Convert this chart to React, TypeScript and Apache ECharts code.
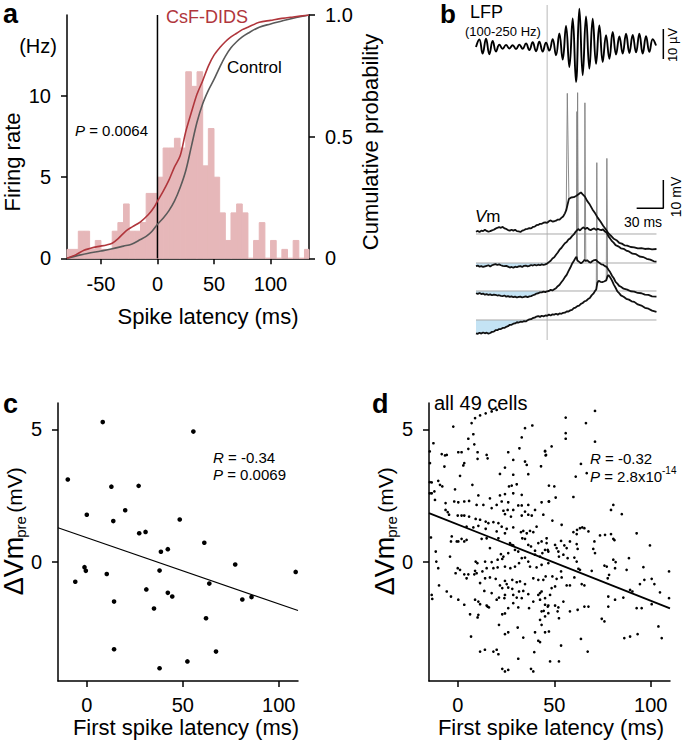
import React, { useEffect, useRef } from "react";
import * as echarts from "echarts";

const FONT = '"Liberation Sans", Arial, Helvetica, sans-serif';

// ---------------- panel a ----------------
const histStartMs = -80;
const histBinMs = 5;
const histRateHz = [
  0.55, 0.55, 1.67, 1.67, 0.55, 1.1, 0.55, 0.55, 1.67, 2.2, 3.35, 1.67, 1.67, 2.2, 4.0, 4.0,
  5.0, 6.8, 6.8, 7.4, 6.8, 11.5, 10.6, 11.5, 5.7, 8.0, 5.0, 2.8, 1.1, 2.8, 3.35, 2.8, 0, 1.1,
  2.2, 0, 1.1, 0, 0.55, 0, 1.1, 0, 0.55,
];
const cdfCsfDids = [
  [-80, 0], [-72, 0.015], [-65, 0.033], [-60, 0.04], [-53, 0.048], [-45, 0.055], [-40, 0.062],
  [-35, 0.08], [-28, 0.112], [-22, 0.13], [-15, 0.15], [-8, 0.18], [-3, 0.21], [0, 0.235],
  [5, 0.275], [10, 0.32], [15, 0.375], [20, 0.42], [25, 0.52], [30, 0.6], [35, 0.675],
  [40, 0.73], [45, 0.79], [50, 0.835], [55, 0.865], [60, 0.89], [65, 0.91], [70, 0.925],
  [75, 0.94], [80, 0.95], [90, 0.97], [100, 0.978], [110, 0.986], [120, 0.992], [134, 1.0],
];
const cdfControl = [
  [-80, 0], [-70, 0.012], [-62, 0.02], [-50, 0.03], [-41, 0.038], [-30, 0.05], [-23, 0.058],
  [-15, 0.077], [-10, 0.09], [-5, 0.11], [0, 0.14], [5, 0.165], [10, 0.195], [15, 0.235],
  [20, 0.29], [25, 0.36], [30, 0.46], [35, 0.56], [40, 0.635], [45, 0.69], [50, 0.735],
  [55, 0.785], [60, 0.83], [65, 0.865], [70, 0.89], [75, 0.91], [80, 0.925], [90, 0.95],
  [100, 0.963], [110, 0.975], [120, 0.987], [134, 1.0],
];
const latencyTicks = [-50, 0, 50, 100];
const rateTicks = [0, 5, 10];
const probTicks = [0, 0.5, 1];

// ---------------- panel b ----------------
const lfpTrace = [
  [0, 0], [3.75, 2.5], [7.5, -2.2], [11.25, 2.8], [15, -2.4], [18.75, 2.0], [22.5, -1.5],
  [26.25, 0.8], [30, -0.6], [33.75, 0.7], [37.5, -0.5], [41.25, 0.6], [45, -0.7], [48.75, 0.8],
  [52.5, -0.6], [56.25, 1.2], [60, -1.0], [63.75, 1.6], [67.5, -1.4], [71.25, 1.8], [75, -1.5],
  [78.75, 1.4], [82.5, -1.2], [86.25, 2.6], [90, -2.8], [93.75, 4.5], [97.5, -4.2], [101.25, 7.0],
  [105, -6.7], [108.75, 9.5], [112.5, -11.7], [116.25, 12.8], [120, -9.4], [123.75, 10.2],
  [127.5, -7.2], [131.25, 9.4], [135, -5.6], [138.75, 7.2], [142.5, -5.0], [146.25, 3.9],
  [150, -3.9], [153.75, 5.0], [157.5, -2.5], [161.25, 3.5], [165, -2.2], [168.75, 4.4],
  [172.5, -2.0], [176.25, 4.0], [180, -1.8], [183.75, 4.4], [187.5, -2.2], [191.25, 3.6],
  [195, -1.6], [198.75, 2.6], [202.5, 0.5],
];
const vmTrace1 = [
  [0, 0.8], [2, 1.1], [4, 0.7], [6, 1.2], [8, 1.0], [10, 1.5], [12, 1.1], [14, 0.8], [16, 1.0],
  [18, 1.3], [20, 1.5], [22, 1.9], [24, 2.2], [26, 2.4], [28, 2.2], [30, 2.5], [32, 2.0],
  [34, 1.8], [36, 1.4], [38, 1.2], [40, 1.5], [42, 1.2], [44, 1.5], [46, 1.0], [48, 0.9],
  [50, 0.7], [52, 1.2], [54, 1.4], [56, 1.7], [58, 1.8], [60, 2.1], [62, 2.0], [64, 2.5],
  [66, 2.6], [68, 3.1], [70, 3.2], [72, 3.6], [74, 3.6], [76, 4.0], [78, 4.1], [80, 3.9],
  [82, 4.5], [84, 4.8], [86, 4.4], [88, 4.5], [90, 4.7], [92, 5.1], [94, 5.1], [96, 5.7],
  [98, 6.2], [100, 7.3], [101.5, 8.4], [104.5, 12.4], [107, 12.9], [110, 13.0], [113, 13.5],
  [116, 14.2], [118, 14.7], [120, 14.0], [122.5, 13.2], [125, 11.7], [128, 10.4], [131, 8.7],
  [134, 7.3], [137, 5.7], [140, 4.4], [143, 2.9], [146, 1.7], [149, 0.2], [152, -0.7],
  [155, -1.7], [158, -2.2], [161, -3.1], [164, -3.4], [167, -4.0], [170, -4.1], [174, -4.6],
  [178, -4.7], [182, -5.1], [186, -5.0], [190, -5.3], [194, -5.2], [198, -5.4], [203, -5.3],
];
const vmTrace2 = [
  [0, -1.1], [2, -0.9], [4, -1.3], [6, -1.1], [8, -1.4], [10, -1.2], [12, -1.0], [14, -0.8],
  [16, -1.2], [18, -0.8], [20, -0.6], [22, -0.4], [24, -0.7], [26, -0.5], [28, -0.8], [30, -1.0],
  [32, -1.1], [34, -1.0], [36, -1.3], [38, -1.6], [40, -1.4], [42, -1.7], [44, -1.3], [46, -1.5],
  [48, -1.2], [50, -1.1], [52, -1.4], [54, -1.0], [56, -0.9], [58, -1.2], [60, -1.0], [62, -0.7],
  [64, -0.9], [66, -0.6], [68, -0.9], [70, -0.6], [72, -0.8], [74, -0.5], [76, -0.7], [78, -0.5],
  [80, -0.2], [82, 0.3], [84, 0.8], [86, 1.6], [88, 2.0], [90, 2.9], [92, 3.7], [94, 4.7],
  [96, 5.3], [98, 6.2], [100, 7.0], [102, 7.4], [104, 8.3], [106, 8.7], [108, 9.5], [110, 10.1],
  [112, 11.0], [113.5, 11.5], [115, 12.0], [117, 11.5], [119, 12.2], [121, 12.6], [123, 12.0],
  [125, 12.5], [127, 11.9], [129, 11.6], [131, 12.0], [133, 12.2], [135, 11.7], [137, 12.1],
  [139, 11.8], [141, 11.6], [143, 11.9], [145, 11.1], [147, 10.7], [149, 9.4], [151, 8.6],
  [153, 7.7], [155, 7.1], [157, 6.3], [160, 5.9], [163, 5.2], [166, 5.0], [169, 4.4], [172, 4.1],
  [176, 3.3], [180, 3.1], [184, 2.3], [188, 2.1], [192, 1.5], [196, 1.2], [200, 0.6], [203, 0.5],
];
const vmTrace3 = [
  [0, -0.8], [2, -1.0], [4, -0.7], [6, -1.1], [8, -0.9], [10, -1.3], [12, -1.1], [14, -1.4],
  [16, -1.2], [18, -1.5], [20, -1.3], [22, -1.4], [24, -1.6], [26, -1.5], [28, -1.7], [30, -1.8],
  [32, -1.6], [34, -2.0], [36, -1.8], [38, -2.1], [40, -1.9], [42, -2.2], [44, -2.0], [46, -2.3],
  [48, -2.1], [50, -2.0], [52, -2.3], [54, -2.1], [56, -1.9], [58, -2.2], [60, -1.9], [62, -1.8],
  [64, -1.5], [66, -1.3], [68, -0.9], [70, -0.8], [72, -0.5], [74, -0.5], [76, -0.2], [78, -0.4],
  [80, -0.1], [82, 0.0], [84, 0.4], [86, 0.2], [88, 0.6], [90, 1.0], [92, 1.7], [94, 2.2],
  [96, 3.1], [98, 3.9], [100, 4.9], [102, 5.7], [104, 7.0], [106, 8.2], [108, 9.6], [110, 10.6],
  [112, 11.7], [113, 12.1], [114, 10.8], [116, 10.3], [118, 9.8], [119.5, 10.1], [121, 10.6],
  [122, 11.0], [123.5, 10.6], [125, 10.9], [127, 10.3], [129, 10.0], [131, 10.6], [133, 10.9],
  [135, 11.0], [137, 10.3], [139, 9.9], [141, 9.4], [143, 9.3], [145, 8.8], [147, 8.5],
  [149, 7.5], [151, 6.6], [153, 5.4], [155, 4.5], [157, 3.2], [159, 2.6], [161, 1.8], [163, 1.5],
  [166, 0.8], [170, 0.5], [174, -0.1], [178, -0.2], [182, -0.7], [186, -0.8], [190, -1.3],
  [194, -1.4], [198, -1.9], [203, -2.0],
];
const vmTrace4 = [
  [0, -4.7], [2, -4.9], [4, -4.5], [6, -4.8], [8, -4.4], [10, -4.7], [12, -4.5], [14, -4.8],
  [16, -4.6], [18, -4.2], [20, -4.1], [22, -3.6], [24, -3.6], [26, -3.2], [28, -3.2], [30, -2.8],
  [32, -2.8], [34, -2.4], [36, -2.2], [38, -1.7], [40, -1.7], [42, -1.3], [44, -1.2], [46, -0.8],
  [48, -0.9], [50, -0.6], [52, -0.7], [54, -0.4], [56, -0.5], [58, -0.1], [60, 0.2], [62, 0.3],
  [64, 0.7], [66, 0.8], [68, 1.2], [70, 1.4], [72, 1.1], [74, 1.5], [76, 1.3], [78, 1.6],
  [80, 1.5], [82, 1.9], [84, 1.6], [86, 2.0], [88, 1.9], [90, 2.2], [92, 1.9], [94, 2.3],
  [96, 2.2], [98, 2.5], [100, 2.6], [102, 3.0], [104, 3.0], [106, 3.4], [108, 3.6], [110, 4.2],
  [112, 4.4], [114, 4.9], [116, 5.1], [118, 5.7], [120, 6.0], [122, 6.6], [124, 6.8], [126, 7.4],
  [128, 7.8], [130, 8.7], [132, 9.3], [134, 10.3], [135.3, 10.8], [136.5, 13.2], [138, 13.9],
  [140, 13.5], [142, 13.4], [144, 13.6], [146.5, 14.0], [148, 15.5], [149, 15.9], [151, 15.0],
  [153, 13.9], [155, 12.5], [157, 11.4], [159, 10.1], [161, 9.5], [163, 8.7], [166, 8.2],
  [169, 7.5], [172, 7.2], [175, 6.6], [178, 6.4], [182, 5.5], [186, 5.1], [190, 4.3], [194, 4.0],
  [198, 3.3], [203, 2.9],
];
const spikeTraceIndex = [0, 1, 2, 2, 3, 3];
const spikeShapes = [
  [[101.5, 8.4], [102.7, 49.7], [104.5, 12.4]],
  [[113.5, 11.5], [114.3, 60.2], [115, 12.0]],
  [[113, 12.1], [113.5, 63.4], [114, 10.8]],
  [[122, 11.0], [122.5, 66.5], [123.5, 10.6]],
  [[135.3, 10.8], [135.9, 55.6], [136.5, 13.2]],
  [[146.5, 14.0], [147.2, 57.1], [148, 15.5]],
];
const stimTimeMs = 80;
const scaleBarMs = 30;
const scaleBarMv = 10;
const scaleBarUv = 10;

// ---------------- panel c ----------------
const cPoints = [
  [8.3, 5.28], [55.5, 4.92], [-9.9, 3.11], [12.8, 2.84], [27, 2.87], [0, 1.78], [20, 1.95],
  [13.8, 1.54], [48.4, 1.6], [27.3, 1.08], [30.6, 1.13], [61.2, 0.72], [38.6, 0.38],
  [42.2, 0.48], [-1.2, -0.2], [-0.5, -0.34], [-6, -0.75], [10.4, -0.46], [37.9, -0.33],
  [77.3, -0.1], [108.8, -0.38], [63.8, -0.82], [31, -1.04], [42.2, -1.17], [44.5, -1.31],
  [81, -1.42], [85.8, -1.33], [14.2, -1.5], [35, -1.76], [62.1, -2.13], [14.2, -3.3],
  [67.3, -3.39], [52.4, -3.76], [37.9, -4.02],
];
const cFitSlope = -0.025;
const cFitIntercept = 0.913;

// ---------------- panel d ----------------
const dPoints = [
  [8.9, 5.43], [11.5, 5.53], [14.4, 5.61], [17.5, 5.68], [20.1, 5.74], [-2.4, 5.11], [7.1, 5.24],
  [34.8, 5.05], [38.6, 5.15], [33.1, 4.7], [5.4, 4.65], [8.0, 4.82], [8.5, 4.44], [-12.7, 4.48],
  [5.4, 4.27], [-14.6, 4.17], [-14.5, 3.73], [-8.4, 4.07], [-6.7, 4.02], [-5.8, 4.04], [0.2, 4.14],
  [1.9, 4.14], [10.2, 4.14], [14.9, 4.04], [15.4, 3.91], [26.1, 4.14], [31.9, 4.29], [45.2, 4.17],
  [45.5, 4.02], [3.3, 3.73], [2.8, 3.64], [-7.0, 3.6], [10.2, 3.89], [28.7, 3.85], [34.8, 3.79],
  [35.7, 3.66], [43.1, 3.61], [24.4, 3.56], [21.8, 3.32], [36.5, 3.31], [1.1, 3.25], [28.7, 3.29],
  [-14.6, 3.01], [-13.6, 3.0], [-10.2, 3.06], [7.5, 2.91], [26.5, 2.85], [27.9, 2.88], [30.5, 2.93],
  [-1.5, 2.74], [-9.3, 2.91], [-8.1, 2.85], [-14.6, 2.59], [-13.6, 2.59], [-12.2, 2.66], [24.4, 2.56],
  [21.8, 2.51], [28.7, 2.59], [10.6, 2.51], [16.6, 2.4], [33.1, 2.53], [-11.9, 2.34], [0.2, 2.25],
  [-1.9, 2.28], [3.3, 2.28], [5.8, 2.3], [22.7, 2.28], [26.1, 2.25], [20.1, 2.15], [13.2, 2.15],
  [-6.4, 2.22], [9.7, 2.15], [17.5, 2.03], [31.3, 2.13], [33.1, 2.13], [36.5, 2.15], [43.4, 2.25],
  [47.2, 2.28], [28.7, 1.96], [23.6, 1.93], [-6.4, 1.96], [-5.3, 1.88], [-4.6, 1.78], [25.8, 1.96],
  [34.8, 1.9], [40.0, 1.96], [-0.1, 1.75], [1.9, 1.75], [3.3, 1.75], [5.8, 1.71], [14.4, 1.52],
  [15.8, 1.46], [18.4, 1.5], [21.0, 1.46], [11.5, 1.59], [9.2, 1.62], [24.4, 1.8], [27.5, 1.71],
  [33.1, 1.75], [36.5, 1.78], [38.3, 1.75], [44.3, 1.78], [4.5, 1.33], [8.0, 1.3], [10.6, 1.36],
  [22.7, 1.33], [25.3, 1.25], [28.7, 1.3], [32.7, 1.12], [33.9, 1.17], [35.7, 1.08], [37.4, 1.17],
  [39.1, 1.12], [40.8, 1.33], [14.4, 1.25], [20.1, 1.15], [-3.2, 0.96], [-0.6, 0.77], [1.9, 0.87],
  [3.3, 0.77], [4.5, 0.83], [-14.0, 0.92], [-3.6, 0.77], [12.3, 0.87], [14.9, 0.89], [21.0, 0.89],
  [24.4, 1.08], [27.0, 0.71], [27.9, 0.64], [28.7, 0.62], [33.4, 0.89], [34.8, 0.87], [43.4, 0.77],
  [46.0, 0.71], [0.2, 0.77], [29.6, 0.45], [31.3, 0.39], [36.5, 0.64], [37.9, 0.58], [40.0, 0.42],
  [41.7, 0.71], [16.6, 0.52], [-4.1, 0.2], [-11.5, 0.39], [22.3, 0.29], [23.6, 0.2], [23.0, 0.11],
  [26.1, 0.33], [20.6, 0.08], [17.5, -0.01], [9.2, 0.01], [10.1, -0.05], [14.1, 0.01], [-11.2, 0.01],
  [-10.2, -0.24], [33.1, 0.14], [34.8, 0.16], [40.0, 0.27], [42.6, 0.2], [43.8, 0.33], [46.9, 0.39],
  [45.2, 0.45], [-0.1, -0.24], [1.1, -0.3], [-1.2, -0.43], [3.3, -0.47], [5.4, -0.47], [8.9, -0.34],
  [8.5, -0.47], [9.7, -0.43], [12.7, -0.36], [14.9, -0.24], [18.4, -0.24], [20.6, -0.21],
  [24.4, -0.18], [27.2, -0.24], [29.6, -0.18], [31.7, -0.05], [36.5, 0.01], [37.4, -0.18],
  [40.8, -0.21], [43.4, -0.11], [46.9, -0.05], [14.1, -0.62], [16.6, -0.59], [19.6, -0.64],
  [24.4, -0.72], [25.3, -0.84], [28.2, -0.68], [30.5, -0.77], [32.2, -0.74], [34.8, -0.84],
  [39.1, -0.62], [41.7, -0.68], [44.3, -0.68], [45.5, -0.55], [-9.8, -0.89], [4.5, -0.62],
  [11.5, -0.8], [21.8, -0.89], [23.0, -0.99], [-5.8, -1.12], [-13.6, -1.25], [-13.3, -1.4],
  [-3.6, -1.31], [0.2, -1.43], [8.9, -1.43], [13.7, -1.1], [17.5, -1.18], [26.1, -0.97],
  [28.2, -1.02], [31.7, -1.12], [33.9, -1.1], [36.5, -1.22], [41.7, -1.25], [42.6, -1.18],
  [43.4, -1.12], [45.2, -1.37], [3.3, -1.62], [10.6, -1.5], [11.5, -1.6], [14.9, -1.65],
  [16.1, -1.72], [20.1, -1.43], [21.3, -1.35], [24.4, -1.25], [24.1, -1.37], [28.7, -1.25],
  [30.5, -1.35], [33.1, -1.37], [39.1, -1.5], [42.6, -1.43], [46.9, -1.65], [6.3, -1.98],
  [10.6, -2.0], [10.2, -2.1], [15.4, -1.69], [23.0, -1.98], [24.4, -1.95], [26.1, -1.75],
  [28.7, -1.56], [31.3, -1.72], [36.9, -1.75], [43.4, -1.87], [44.5, -1.85], [42.6, -2.19],
  [43.4, -2.38], [21.3, -2.38], [31.0, -2.48], [40.0, -2.66], [45.2, -2.66], [24.4, -2.73],
  [26.1, -2.66], [6.8, -2.82], [33.9, -2.86], [41.7, -2.98], [42.6, -3.03], [11.5, -3.39],
  [14.0, -3.32], [18.4, -3.39], [20.1, -3.32], [21.0, -3.49], [31.3, -3.66], [39.6, -3.41],
  [23.0, -4.04], [24.4, -4.14], [26.1, -4.08], [37.9, -4.04], [39.1, -4.14],
  [55.9, 5.45], [66.4, 5.24], [71.1, 5.7], [55.9, 4.86], [55.9, 4.65], [71.1, 4.54], [45.2, 4.19],
  [45.7, 4.04], [48.6, 4.36], [63.8, 3.7], [66.8, 3.35], [61.1, 3.22], [47.2, 2.88], [50.0, 2.85],
  [50.7, 2.43], [47.2, 2.28], [59.9, 2.45], [80.6, 2.15], [79.4, 1.96], [85.0, 1.8], [49.0, 1.56],
  [53.8, 1.4], [61.8, 1.21], [63.3, 1.27], [64.5, 1.3], [65.6, 1.27], [61.6, 1.05], [59.9, 1.12],
  [67.7, 1.15], [70.8, 0.77], [73.7, 1.0], [76.3, 1.02], [79.4, 1.05], [80.6, 0.87], [81.2, 0.82],
  [92.7, 1.08], [46.0, 0.89], [53.5, 0.79], [58.1, 0.77], [50.4, 0.64], [51.2, 0.52], [52.1, 0.39],
  [55.2, 0.62], [56.4, 0.52], [61.6, 0.67], [62.1, 0.49], [70.2, 0.49], [71.1, 0.33], [46.6, 0.45],
  [52.4, 0.2], [54.7, 0.27], [56.9, 0.14], [60.4, 0.16], [61.6, 0.01], [99.6, 0.62], [80.6, 0.08],
  [81.8, -0.01], [88.7, 0.14], [76.0, -0.14], [77.2, -0.18], [62.5, -0.26], [63.3, -0.3],
  [53.5, -0.36], [69.4, -0.34], [96.2, -0.2], [81.5, -0.24], [49.0, -0.55], [51.2, -0.64],
  [53.8, -0.59], [56.4, -0.89], [58.1, -0.89], [60.4, -0.59], [64.2, -0.84], [65.6, -0.89],
  [50.4, -0.93], [48.6, -0.99], [47.8, -1.25], [78.4, -0.49], [77.7, -0.62], [87.5, -0.3],
  [94.4, -0.84], [96.7, -0.68], [100.5, -0.64], [101.9, -0.84], [104.8, -1.15], [109.5, -0.36],
  [109.5, -1.37], [78.0, -1.31], [81.5, -1.43], [85.8, -1.35], [89.3, -1.06], [90.5, -1.12],
  [45.2, -1.62], [46.6, -1.69], [50.4, -1.65], [52.1, -1.72], [51.7, -1.87], [54.7, -1.5],
  [65.6, -1.69], [67.7, -1.69], [62.1, -1.81], [58.1, -1.87], [78.0, -1.69], [92.7, -1.75],
  [95.3, -1.75], [100.5, -1.6], [45.2, -2.06], [46.9, -1.94], [52.4, -2.13], [74.6, -2.15],
  [76.0, -2.25], [47.2, -2.63], [63.8, -2.91], [67.3, -3.39], [86.3, -2.88], [89.3, -2.82],
  [93.2, -2.73], [104.0, -2.44], [105.7, -2.88], [53.5, -3.16], [47.8, -3.76], [52.4, -3.76],
];
const dFitSlope = -0.0288;
const dFitIntercept = 1.41;

const scatterXTicks = [0, 50, 100];
const scatterYTicks = [0, 5];

// ---------------- layout (pixels) ----------------
const VM_OFFSETS = [37.46, 27.21, 17.32, 7.07];
const BAR_COLOR = "#e6b7b9";
const RED = "#b0363c";
const GRAY = "#5a5a5a";
const BLUE = "#c4e3f4";

function numAxis(gridIndex: number, min: number, max: number, ticks: number[], label: any = {}, extra: any = {}) {
  return {
    type: "value",
    gridIndex,
    min,
    max,
    axisLine: { show: true, onZero: false, lineStyle: { color: "#000", width: 1.5 } },
    axisTick: { show: true, inside: false, length: 6, customValues: ticks, lineStyle: { color: "#000", width: 1.5 } },
    axisLabel: { show: true, customValues: ticks, color: "#000", fontSize: 20, fontFamily: FONT, margin: 16, ...label },
    splitLine: { show: false },
    ...extra,
  };
}
function hiddenAxis(gridIndex: number, min: number, max: number) {
  return { type: "value", gridIndex, min, max, show: false, splitLine: { show: false } };
}
function lineSeries(xi: number, yi: number, data: any[], color: string, width: number, extra: any = {}) {
  return {
    type: "line",
    xAxisIndex: xi,
    yAxisIndex: yi,
    data,
    showSymbol: false,
    symbol: "none",
    silent: true,
    lineStyle: { color, width },
    itemStyle: { color },
    ...extra,
  };
}
function txt(text: string, x: number, y: number, size: number, o: any = {}) {
  const rich = o.italicPrefix
    ? { i: { fontStyle: "italic", fontSize: size, fontFamily: FONT, fill: o.color || "#000", color: o.color || "#000" } }
    : undefined;
  return {
    type: "text",
    x,
    y,
    rotation: o.rot || 0,
    silent: true,
    z: 100,
    style: {
      text,
      fill: o.color || "#000",
      fontSize: size,
      fontFamily: FONT,
      fontWeight: o.bold ? "bold" : "normal",
      fontStyle: o.italic ? "italic" : "normal",
      textAlign: o.align || "left",
      textVerticalAlign: "middle",
      align: o.align || "left",
      verticalAlign: "middle",
      rich,
    },
  };
}
function dvmLabel(dx: number) {
  const R = Math.PI / 2;
  return [
    txt("ΔVm", 14 + dx, 566, 27, { rot: R, align: "center" }),
    txt("pre", 20 + dx, 527, 15, { rot: R, align: "center" }),
    txt("(mV)", 14 + dx, 490, 21, { rot: R, align: "center" }),
  ];
}

function buildOption() {
  const histData = histRateHz.map((v, i) => [histStartMs + i * histBinMs, histStartMs + (i + 1) * histBinMs, v]);
  const series: any[] = [];

  // panel a
  series.push({
    type: "custom",
    xAxisIndex: 0,
    yAxisIndex: 0,
    silent: true,
    encode: { x: [0, 1], y: 2 },
    data: histData,
    renderItem: (params: any, api: any) => {
      const p0 = api.coord([api.value(0), api.value(2)]);
      const p1 = api.coord([api.value(1), 0]);
      const cs = params.coordSys;
      const right = Math.min(p1[0], cs.x + cs.width);
      return {
        type: "rect",
        shape: { x: p0[0], y: p0[1], width: Math.max(0, right - p0[0]), height: p1[1] - p0[1] },
        style: { fill: BAR_COLOR, stroke: BAR_COLOR, lineWidth: 1 },
      };
    },
    z: 1,
  });
  series.push(lineSeries(0, 0, [[0, 0], [0, 15]], "#000", 1.5, { z: 3 }));
  series.push(lineSeries(0, 1, cdfControl, GRAY, 1.6, { smooth: 0.35, z: 4 }));
  series.push(lineSeries(0, 1, cdfCsfDids, RED, 1.6, { smooth: 0.3, z: 5 }));

  // panel b
  series.push(lineSeries(1, 2, [[stimTimeMs, -14], [stimTimeMs, 14]], "#b8b8b8", 1, { z: 1 }));
  series.push(lineSeries(2, 3, [[stimTimeMs, 0], [stimTimeMs, 88.7]], "#b8b8b8", 1, { z: 1 }));
  const traces = [vmTrace1, vmTrace2, vmTrace3, vmTrace4];
  traces.forEach((tr, k) => {
    const off = VM_OFFSETS[k];
    if (k > 0) {
      series.push({
        ...lineSeries(2, 3, tr.filter((p) => p[0] <= stimTimeMs).map(([t, v]) => [t, Math.min(v, 0) + off]), BLUE, 0),
        lineStyle: { width: 0, opacity: 0 },
        areaStyle: { color: BLUE, opacity: 1, origin: off },
        z: 1,
      });
    }
    series.push(lineSeries(2, 3, [[0, off], [tr[tr.length - 1][0], off]], "#a9a9a9", 1, { z: 2 }));
  });
  traces.forEach((tr, k) => {
    const off = VM_OFFSETS[k];
    series.push(lineSeries(2, 3, tr.map(([t, v]) => [t, v + off]), "#111", 1.8, { z: 4 }));
  });
  spikeShapes.forEach((sp, i) => {
    const off = VM_OFFSETS[spikeTraceIndex[i]];
    series.push(lineSeries(2, 3, sp.map(([t, v]) => [t, v + off]), "#808080", 0.9, { z: 3 }));
  });
  series.push(lineSeries(1, 2, lfpTrace, "#000", 1.9, { smooth: 0.45, z: 4 }));
  // scale bars
  const sbT = 210.7;
  const sbV = 46.54;
  series.push(lineSeries(2, 3, [[sbT - scaleBarMs, sbV], [sbT, sbV], [sbT, sbV + scaleBarMv]], "#000", 1.5, { z: 4 }));
  series.push(lineSeries(1, 2, [[sbT, -4], [sbT, -4 + scaleBarUv]], "#000", 1.5, { z: 4 }));

  // panel c
  series.push({
    type: "scatter", xAxisIndex: 3, yAxisIndex: 4, data: cPoints, symbolSize: 4.6, silent: true,
    itemStyle: { color: "#000", opacity: 1 }, z: 4,
  });
  series.push(lineSeries(3, 4, [[-15, cFitIntercept + cFitSlope * -15], [110, cFitIntercept + cFitSlope * 110]], "#000", 1.2, { z: 3 }));

  // panel d
  series.push({
    type: "scatter", xAxisIndex: 4, yAxisIndex: 5, data: dPoints, symbolSize: 2.7, silent: true,
    itemStyle: { color: "#000", opacity: 1 }, z: 4,
  });
  series.push(lineSeries(4, 5, [[-15, dFitIntercept + dFitSlope * -15], [110, dFitIntercept + dFitSlope * 110]], "#000", 1.8, { z: 3 }));

  const gridBase = { containLabel: false, outerBoundsMode: "none" };
  const R = Math.PI / 2;

  const texts = [
    txt("a", 3, 14, 27, { bold: true }),
    txt("(Hz)", 38, 46, 20, { align: "center" }),
    txt("Firing rate", 12, 162, 22, { rot: R, align: "center" }),
    txt("Cumulative probability", 370, 142, 22, { rot: R, align: "center" }),
    txt("Spike latency (ms)", 208, 316, 22, { align: "center" }),
    txt("{i|P} = 0.0064", 75, 130, 15, { italicPrefix: true }),
    txt("CsF-DIDS", 166, 17, 18, { color: RED }),
    txt("Control", 227, 67, 17),
    txt("b", 440, 14, 26, { bold: true }),
    txt("LFP", 470, 12, 18),
    txt("(100-250 Hz)", 465, 31, 13),
    txt("10 µV", 672, 45, 13, { rot: R, align: "center" }),
    txt("{i|V}m", 475, 216, 17, { italicPrefix: true }),
    txt("30 ms", 643, 222, 14, { align: "center" }),
    txt("10 mV", 676, 197, 14, { rot: R, align: "center" }),
    txt("c", 3, 404, 27, { bold: true }),
    txt("{i|R} = -0.34", 213, 457, 15, { italicPrefix: true }),
    txt("{i|P} = 0.0069", 213, 474, 15, { italicPrefix: true }),
    ...dvmLabel(0),
    txt("First spike latency (ms)", 186, 727, 22, { align: "center" }),
    txt("d", 372, 404, 27, { bold: true }),
    txt("all 49 cells", 434, 403, 20),
    txt("{i|R} = -0.32", 590, 458, 15, { italicPrefix: true }),
    txt("{i|P} = 2.8x10", 590, 476, 15, { italicPrefix: true }),
    txt("-14", 662, 470, 10),
    ...dvmLabel(371),
    txt("First spike latency (ms)", 551, 727, 22, { align: "center" }),
  ];

  return {
    animation: false,
    backgroundColor: "#fff",
    grid: [
      { ...gridBase, left: 67, top: 15, width: 242, height: 243.3 },
      { ...gridBase, left: 476, top: 5, width: 194, height: 84 },
      { ...gridBase, left: 476, top: 89, width: 194, height: 251 },
      { ...gridBase, left: 58, top: 403, width: 240, height: 278 },
      { ...gridBase, left: 429, top: 403, width: 241, height: 278 },
    ],
    xAxis: [
      numAxis(0, -80, 134, latencyTicks, { margin: 16 }),
      hiddenAxis(1, 0, 218.2),
      hiddenAxis(2, 0, 218.2),
      numAxis(3, -15, 110, scatterXTicks, { margin: 14 }),
      numAxis(4, -15, 110, scatterXTicks, { margin: 14 }),
    ],
    yAxis: [
      numAxis(0, 0, 15, rateTicks, { margin: 16 }),
      numAxis(0, 0, 1, probTicks, { margin: 16, formatter: (v: number) => (v === 0 ? "0" : v.toFixed(1)) }, { position: "right" }),
      hiddenAxis(1, -14, 14),
      hiddenAxis(2, 0, 88.7),
      numAxis(3, -4.5, 6, scatterYTicks, { margin: 16 }),
      numAxis(4, -4.5, 6, scatterYTicks, { margin: 16 }),
    ],
    series,
    graphic: { elements: texts },
  };
}

export default function App() {
  const ref = useRef<HTMLDivElement>(null);
  useEffect(() => {
    document.body.style.margin = "0";
    const chart = echarts.init(ref.current as HTMLDivElement, null, { renderer: "svg" });
    chart.setOption(buildOption() as any);
    return () => chart.dispose();
  }, []);
  return <div ref={ref} style={{ width: 685, height: 746 }} />;
}
